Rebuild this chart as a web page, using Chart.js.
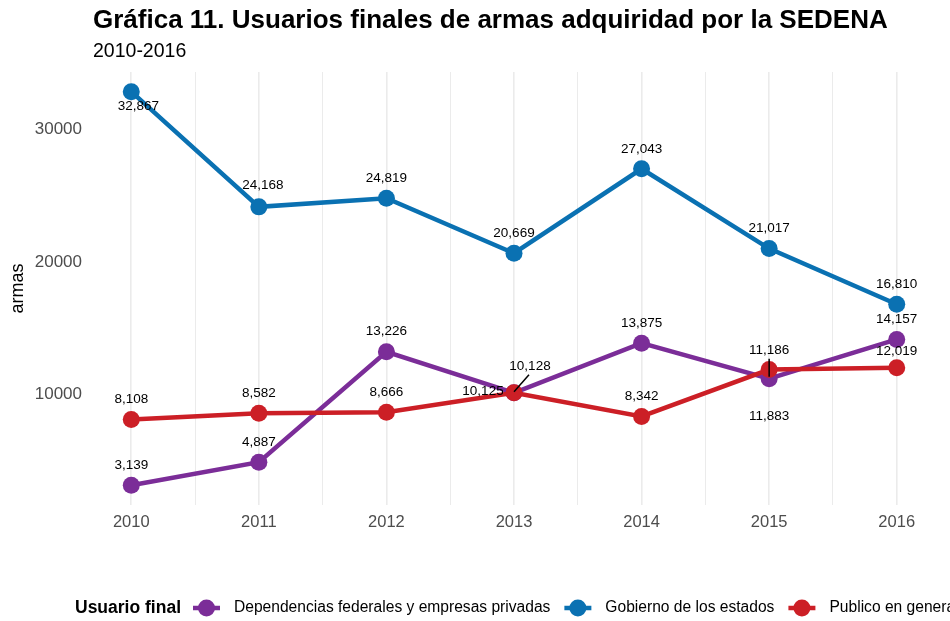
<!DOCTYPE html>
<html>
<head>
<meta charset="utf-8">
<script src="https://cdn.jsdelivr.net/npm/chart.js@4.4.1/dist/chart.umd.min.js"></script>
<style>
  html, body { margin: 0; padding: 0; background: #fff; }
</style>
</head>
<body>
<canvas id="armasChart" width="950" height="621"></canvas>
<script>
// data
const years = [2010, 2011, 2012, 2013, 2014, 2015, 2016];
const seriesNames = ['Dependencias federales y empresas privadas', 'Gobierno de los estados', 'Publico en general'];
const dependencias = [3139, 4887, 13226, 10128, 13875, 11186, 14157];
const gobierno = [32867, 24168, 24819, 20669, 27043, 21017, 16810];
const publico = [8108, 8582, 8666, 10125, 8342, 11883, 12019];
const yTicks = [10000, 20000, 30000];

const colors = ['#7b2d98', '#0a71b2', '#cc1f26'];
const FONT = '"Liberation Sans", Arial, sans-serif';

// label nudges [dx, dy, connector] keyed "series-point", default is above the point
const labelNudges = {
    '1-0': [7, 15, false],
    '1-1': [4, -22, false],
    '0-3': [16, -26, true],
    '0-5': [0, -28, true],
    '2-3': [-31, -2, false],
    '2-5': [0, 47, false],
    '2-6': [0, -16, false],
};

const toPoints = vals => years.map((yr, i) => ({ x: yr, y: vals[i] }));

const labelsPlugin = {
    id: 'labelsAndText',
    afterDraw(chart) {
        const ctx = chart.ctx;
        ctx.save();

        // value labels
        ctx.font = '13.5px ' + FONT;
        ctx.fillStyle = '#000';
        ctx.textAlign = 'center';
        ctx.textBaseline = 'middle';
        chart.data.datasets.forEach((ds, si) => {
            const meta = chart.getDatasetMeta(si);
            meta.data.forEach((pt, pi) => {
                const n = labelNudges[si + '-' + pi] || [0, -20, false];
                const lx = pt.x + n[0], ly = pt.y + n[1];
                if (n[2]) {
                    ctx.strokeStyle = '#000';
                    ctx.lineWidth = 1.5;
                    ctx.beginPath();
                    if (n[0] !== 0) {
                        ctx.moveTo(pt.x, pt.y - 1);
                        ctx.lineTo(lx - 1, ly + 8);
                    } else {
                        ctx.moveTo(pt.x, pt.y - 2);
                        ctx.lineTo(lx, ly + 8);
                    }
                    ctx.stroke();
                }
                ctx.fillText(ds.data[pi].y.toLocaleString('en-US'), lx, ly);
            });
        });

        // title + subtitle
        ctx.textAlign = 'left';
        ctx.textBaseline = 'alphabetic';
        ctx.font = 'bold 26px ' + FONT;
        ctx.fillText('Gráfica 11. Usuarios finales de armas adquiridad por la SEDENA', 93, 28);
        ctx.font = '19.5px ' + FONT;
        ctx.fillText('2010-2016', 93, 57);

        // legend at the bottom
        const ly = 608;
        let x = 75;
        ctx.textBaseline = 'middle';
        ctx.font = 'bold 17.5px ' + FONT;
        ctx.fillText('Usuario final', x, ly);
        x += ctx.measureText('Usuario final').width + 12;
        ctx.font = '15.6px ' + FONT;
        seriesNames.forEach((name, i) => {
            ctx.strokeStyle = colors[i];
            ctx.lineWidth = 4.5;
            ctx.beginPath();
            ctx.moveTo(x, ly);
            ctx.lineTo(x + 27, ly);
            ctx.stroke();
            ctx.fillStyle = colors[i];
            ctx.beginPath();
            ctx.arc(x + 13.5, ly, 8.5, 0, Math.PI * 2);
            ctx.fill();
            x += 27 + 14;
            ctx.fillStyle = '#000';
            ctx.fillText(name, x, ly);
            x += ctx.measureText(name).width + 14;
        });
        ctx.restore();
    }
};

const makeSet = (i, vals, order) => ({
    label: seriesNames[i],
    data: toPoints(vals),
    borderColor: colors[i],
    backgroundColor: colors[i],
    pointBackgroundColor: colors[i],
    pointBorderWidth: 0,
    pointRadius: 8.5,
    borderWidth: 4.5,
    tension: 0,
    order: order,
});

let ctx = document.getElementById('armasChart').getContext('2d');

let armasChart = new Chart(ctx, {
    type: 'line',
    data: {
        datasets: [
            makeSet(0, dependencias, 3),
            makeSet(1, gobierno, 2),
            makeSet(2, publico, 1),
        ]
    },
    plugins: [labelsPlugin],
    options: {
        responsive: false,
        animation: false,
        devicePixelRatio: 1,
        layout: {
            padding: { top: 72, right: 15, bottom: 76, left: 0 }
        },
        plugins: {
            legend: { display: false },
            tooltip: { enabled: false },
        },
        scales: {
            x: {
                type: 'linear',
                min: 2009.7,
                max: 2016.3,
                afterBuildTicks: scale => {
                    const t = [];
                    for (let v = 2010; v <= 2016; v += 0.5) t.push({ value: v });
                    scale.ticks = t;
                },
                afterFit: scale => { scale.height = 40; },
                ticks: {
                    autoSkip: false,
                    maxRotation: 0,
                    padding: 8,
                    color: '#4d4d4d',
                    font: { family: FONT, size: 16.5 },
                    callback: v => Number.isInteger(v) ? String(v) : '',
                },
                grid: {
                    color: '#ebebeb',
                    lineWidth: c => Number.isInteger(c.tick && c.tick.value) ? 1.6 : 1,
                    drawTicks: false,
                },
                border: { display: false },
            },
            y: {
                min: 1653,
                max: 34353,
                afterBuildTicks: scale => {
                    scale.ticks = yTicks.map(v => ({ value: v }));
                },
                afterFit: scale => { scale.width = 93; },
                ticks: {
                    padding: 11,
                    color: '#4d4d4d',
                    font: { family: FONT, size: 17 },
                    callback: v => String(v),
                },
                title: {
                    display: true,
                    text: 'armas',
                    color: '#000',
                    font: { family: FONT, size: 18 },
                    padding: { top: 7, bottom: 0 },
                },
                grid: { display: false, drawTicks: false },
                border: { display: false },
            }
        }
    }
});
</script>
</body>
</html>
